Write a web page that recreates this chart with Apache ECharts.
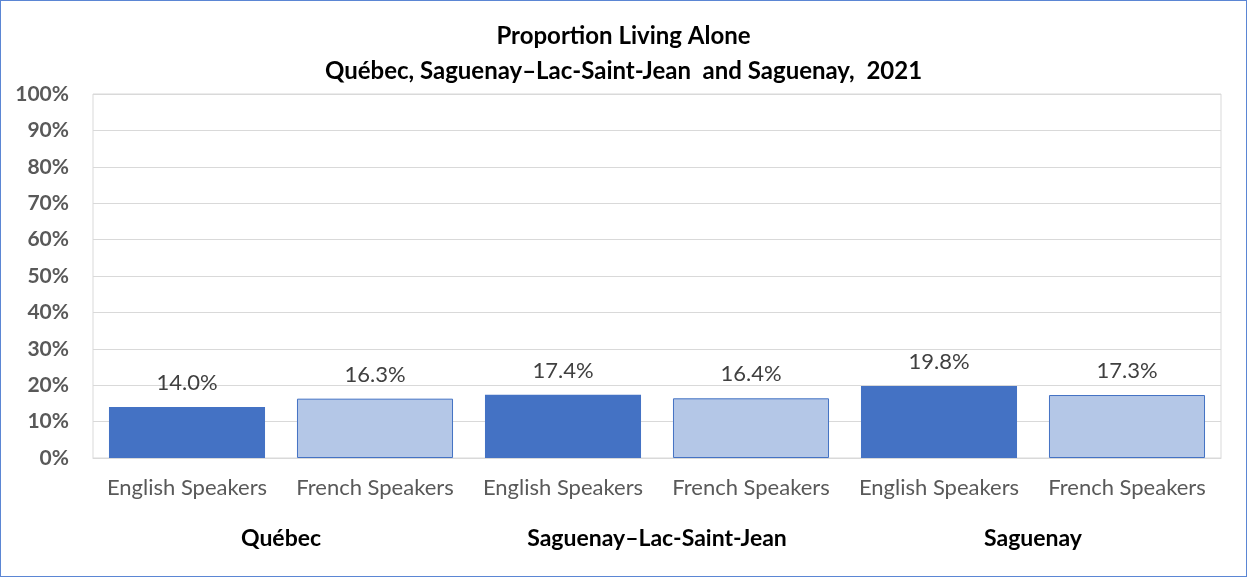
<!DOCTYPE html>
<html>
<head>
<meta charset="utf-8">
<script src="https://cdn.jsdelivr.net/npm/echarts@6/dist/echarts.min.js"></script>
<style>
html,body{margin:0;padding:0;background:#fff;}
#chart{width:1247px;height:577px;box-sizing:border-box;border:1px solid #5b86d4;}
</style>
</head>
<body>
<div id="chart"></div>
<script>
var categories = ['English Speakers','French Speakers','English Speakers','French Speakers','English Speakers','French Speakers'];
var groups = ['Québec','Saguenay–Lac-Saint-Jean','Saguenay'];
var values = [14.0, 16.3, 17.4, 16.4, 19.8, 17.3];
var yTicks = [0,10,20,30,40,50,60,70,80,90,100];

var fill = ['#4472C4','#B4C7E7'];
var chart = echarts.init(document.getElementById('chart'), null, {renderer:'canvas'});
var font = 'Lato, "Noto Sans", sans-serif';
chart.setOption({
  animation:false,
  title:{
    text:'Proportion Living Alone\nQuébec, Saguenay–Lac-Saint-Jean  and Saguenay,  2021',
    left:'center', top:13,
    textStyle:{fontFamily:font,fontWeight:'bold',fontSize:24,color:'#000',lineHeight:35}
  },
  grid:{left:92,right:25,top:93,bottom:118,show:true,borderColor:'#d9d9d9',borderWidth:1},
  xAxis:[{
    type:'category', data:categories,
    axisLine:{show:true,lineStyle:{color:'#d9d9d9'}},
    axisTick:{show:false},
    axisLabel:{interval:0,hideOverlap:false,fontFamily:font,fontSize:22,color:'#595959',margin:19}
  },{
    type:'category', data:groups, position:'bottom', offset:0,
    axisLine:{show:false}, axisTick:{show:false},
    axisLabel:{interval:0,fontFamily:font,fontSize:23,fontWeight:'bold',color:'#000',margin:69}
  }],
  yAxis:{
    type:'value', min:yTicks[0], max:yTicks[yTicks.length-1], interval:10,
    axisLabel:{formatter:function(v){return v+'%';},fontFamily:font,fontSize:21,fontWeight:'bold',color:'#595959',margin:24},
    splitLine:{lineStyle:{color:'#d9d9d9',width:1}},
    axisLine:{show:false}, axisTick:{show:false}
  },
  series:[{
    type:'bar', xAxisIndex:0,
    barCategoryGap:'17%',
    data: values.map(function(v,i){
      return {value:v,itemStyle:{color:fill[i%2],borderColor:'#4472C4',borderWidth:i%2?1:0}};
    }),
    label:{show:true,position:'top',distance:13,formatter:function(p){return p.value.toFixed(1)+'%';},
      fontFamily:font,fontSize:22,color:'#404040'}
  }]
});
</script>
</body>
</html>
